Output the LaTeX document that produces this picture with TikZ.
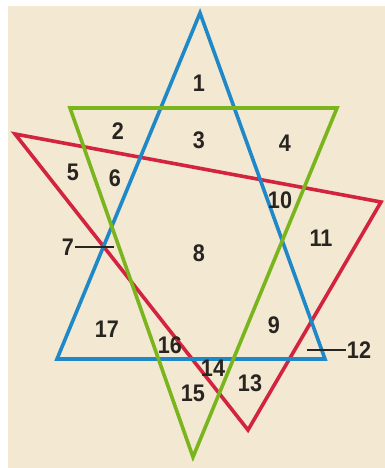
\documentclass[tikz,border=0pt]{standalone}
\usepackage{fontspec}
\setmainfont[FakeStretch=0.9]{Liberation Sans}
\definecolor{bg}{RGB}{243,232,209}
\definecolor{tblue}{RGB}{30,136,200}
\definecolor{tgreen}{RGB}{122,181,29}
\definecolor{tred}{RGB}{210,36,63}
\definecolor{ink}{RGB}{40,36,32}
\begin{document}
\begin{tikzpicture}[x=1pt,y=-1pt,
  tri/.style={line width=3.6pt,line join=miter},
  lbl/.style={inner sep=0pt,text=ink,font=\fontsize{24}{24}\selectfont\bfseries},
  leader/.style={draw=ink,line width=1.2pt}]
\useasboundingbox (0,0) rectangle (385,468);
\fill[white] (0,0) rectangle (385,468);
\fill[bg] (8,6) rectangle (385,468);
% vertices
\coordinate (b1) at (200,13);
\coordinate (b2) at (57,359);
\coordinate (b3) at (325,359);
\coordinate (g1) at (70,108);
\coordinate (g2) at (337,108);
\coordinate (g3) at (193,457);
\coordinate (r1) at (15,134);
\coordinate (r2) at (381,202);
\coordinate (r3) at (248,430);
\draw[tri,tred] (r1) -- (r2) -- (r3) -- cycle;
\draw[tri,tblue] (b1) -- (b2) -- (b3) -- cycle;
\draw[tri,tgreen] (g1) -- (g2) -- (g3) -- cycle;
% labels
\node[lbl] (n1) at (199,83) {1};
\node[lbl] (n2) at (118,131) {2};
\node[lbl] (n3) at (199,140) {3};
\node[lbl] (n4) at (285,143) {4};
\node[lbl] (n5) at (73,172) {5};
\node[lbl] (n6) at (115,178) {6};
\node[lbl] (n7) at (68,247) {7};
\node[lbl] (n8) at (199,253) {8};
\node[lbl] (n9) at (274,325) {9};
\node[lbl] (n10) at (280,200) {10};
\node[lbl] (n11) at (321,238) {11};
\node[lbl] (n12) at (359,350) {12};
\node[lbl] (n13) at (250,383) {13};
\node[lbl] (n14) at (213,368) {14};
\node[lbl] (n15) at (193,393) {15};
\node[lbl] (n16) at (170,345) {16};
\node[lbl] (n17) at (107,329) {17};
\coordinate (p7) at (114,247);
\coordinate (p12) at (307,350);
\draw[leader] (n7.east) ++(1,0) -- (p7);
\draw[leader] (n12.west) ++(-1,0) -- (p12);
\end{tikzpicture}
\end{document}
